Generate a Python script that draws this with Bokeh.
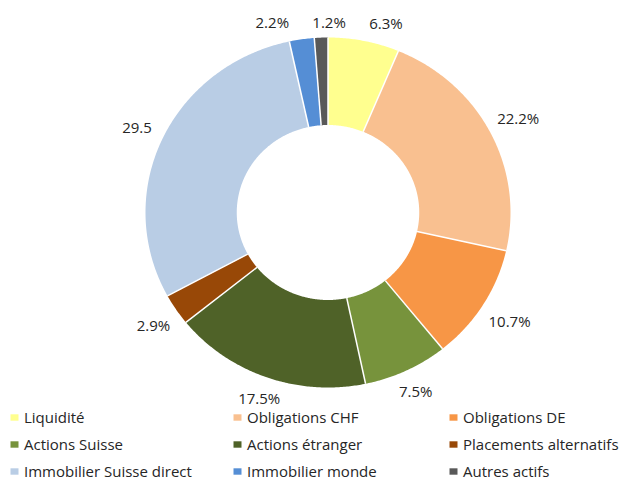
import math
import numpy as np
from bokeh.plotting import figure
from bokeh.models import ColumnDataSource, Legend, LegendItem, Range1d
from bokeh.core.properties import value
from bokeh.embed import file_html
from bokeh.resources import INLINE

# ---- data ----
categories = ["Liquidité", "Obligations CHF", "Obligations DE", "Actions Suisse",
              "Actions étranger", "Placements alternatifs", "Immobilier Suisse direct",
              "Immobilier monde", "Autres actifs"]
values = [6.3, 22.2, 10.7, 7.5, 17.5, 2.9, 29.5, 2.2, 1.2]
label_texts = ["6.3%", "22.2%", "10.7%", "7.5%", "17.5%", "2.9%", "29.5", "2.2%", "1.2%"]
colors = ["#FFFF8F", "#F9C090", "#F79646", "#77933C", "#4F6228", "#984807",
          "#B9CDE5", "#558ED5", "#595959"]

# ---- layout ----
W, H = 627, 484
CX, CY = 327.5, 212.0          # donut centre in canvas px
SX, SY = 182.5, 175.0          # px per data unit (horizontal / vertical)
INNER = 0.5
FONT = "Open Sans"
FSIZE = "15px"
TXT = "#262626"

total = float(sum(values))
cum = np.concatenate([[0.0], np.cumsum(values)]) / total * 2 * math.pi

xs, ys = [], []
for i in range(len(values)):
    a0, a1 = cum[i], cum[i + 1]
    n = max(2, int(math.ceil((a1 - a0) / math.radians(0.5))) + 1)
    t = np.linspace(a0, a1, n)
    ox, oy = np.sin(t), np.cos(t)
    ix, iy = INNER * np.sin(t[::-1]), INNER * np.cos(t[::-1])
    xs.append(list(np.concatenate([ox, ix])))
    ys.append(list(np.concatenate([oy, iy])))

p = figure(width=W, height=H, output_backend="svg", toolbar_location=None,
           x_range=Range1d(-CX / SX, (W - CX) / SX),
           y_range=Range1d((CY - H) / SY, CY / SY),
           x_axis_type=None, y_axis_type=None, min_border=0)
p.grid.visible = False
p.outline_line_color = None

src = ColumnDataSource(dict(xs=xs, ys=ys, color=colors, label=categories))
r = p.patches("xs", "ys", fill_color="color", line_color=None, source=src)

# white separators between slices
b = cum[:-1]
p.segment(x0=INNER * np.sin(b), y0=INNER * np.cos(b), x1=np.sin(b), y1=np.cos(b),
          line_color="white", line_width=1.5)

# ---- data labels ----
mid = (cum[:-1] + cum[1:]) / 2
hw = np.array([len(s) * 4.6 for s in label_texts])
hh = 7.0
gap = 8.0
m = gap + hw * np.abs(np.sin(mid)) + hh * np.abs(np.cos(mid))
xoff = m * np.sin(mid)
yoff = -m * np.cos(mid)
# de-overlap labels horizontally (screen px)
px = CX + SX * np.sin(mid) + xoff
py = CY - SY * np.cos(mid) + yoff
for _ in range(200):
    moved = False
    for i in range(len(px)):
        for j in range(i + 1, len(px)):
            if abs(py[i] - py[j]) < 16:
                need = hw[i] + hw[j] + 20
                d = px[j] - px[i]
                if abs(d) < need:
                    s = 1 if d >= 0 else -1
                    push = (need - abs(d)) / 2
                    px[i] -= s * push
                    px[j] += s * push
                    moved = True
    if not moved:
        break
xoff = px - (CX + SX * np.sin(mid))

lsrc = ColumnDataSource(dict(x=np.sin(mid), y=np.cos(mid), text=label_texts,
                             xo=xoff, yo=yoff))
p.text(x="x", y="y", text="text", x_offset="xo", y_offset="yo", source=lsrc,
       text_align="center", text_baseline="middle", text_font=value(FONT),
       text_font_size=FSIZE, text_color=TXT)

# ---- legend: 3 columns ----
items = [LegendItem(label=categories[i], renderers=[r], index=i) for i in range(len(categories))]
col_x = [9, 232, 448]
for c in range(3):
    leg = Legend(items=[items[c], items[c + 3], items[c + 6]], location=(col_x[c], 3),
                 orientation="vertical", padding=0, margin=0, spacing=7,
                 glyph_width=10, glyph_height=8, label_standoff=5, label_height=20,
                 label_text_font=FONT, label_text_font_size=FSIZE, label_text_color=TXT,
                 background_fill_alpha=0, border_line_alpha=0)
    p.add_layout(leg)

open("out.html", "w").write(file_html(p, INLINE))
